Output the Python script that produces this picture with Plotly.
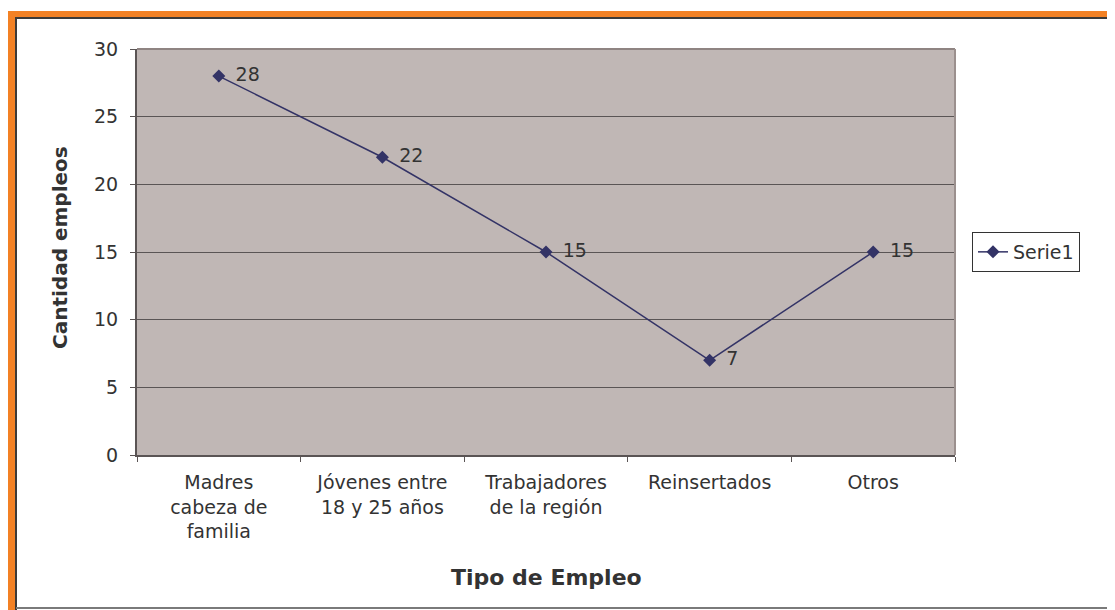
import plotly.graph_objects as go

categorias = [
    "Madres<br>cabeza de<br>familia",
    "Jóvenes entre<br>18 y 25 años",
    "Trabajadores<br>de la región",
    "Reinsertados",
    "Otros",
]
empleos = [28, 22, 15, 7, 15]
y_ticks = [0, 5, 10, 15, 20, 25, 30]

# the page body adds an 8px margin, so the figure is drawn 8px smaller
OFF = 8
W, H = 1115 - OFF, 610 - OFF
L, R, T, B = 137, 955, 49, 455   # plot area in page pixels

FONT = "DejaVu Sans, Arial, sans-serif"
TXT = "#333333"
NAVY = "#333366"


def px(x):
    return (x - L) / (R - L)


def py(y):
    return (B - y) / (B - T)


fig = go.Figure()
fig.add_trace(go.Scatter(
    x=categorias, y=empleos, name="Serie1",
    mode="lines+markers+text",
    line=dict(color=NAVY, width=1.5),
    marker=dict(symbol="diamond", size=10, color=NAVY),
    text=["\u2002" + str(v) for v in empleos],
    textposition="middle right",
    textfont=dict(family=FONT, size=19, color=TXT),
    cliponaxis=False,
))

shapes = [
    # orange frame (top and left strips)
    dict(type="rect", xref="paper", yref="paper", x0=px(7), x1=px(1125), y0=py(17), y1=py(11),
         fillcolor="#F38124", line=dict(width=0), layer="above"),
    dict(type="rect", xref="paper", yref="paper", x0=px(7), x1=px(15), y0=py(620), y1=py(11),
         fillcolor="#F38124", line=dict(width=0), layer="above"),
    dict(type="line", xref="paper", yref="paper", x0=px(15), x1=px(1125), y0=py(18), y1=py(18),
         line=dict(color="#3d3a38", width=2), layer="above"),
    dict(type="line", xref="paper", yref="paper", x0=px(16), x1=px(16), y0=py(620), y1=py(18),
         line=dict(color="#3d3a38", width=2), layer="above"),
    dict(type="line", xref="paper", yref="paper", x0=px(16), x1=px(1125), y0=py(608), y1=py(608),
         line=dict(color="#7a7a7a", width=2), layer="above"),
    # plot border top / right
    dict(type="line", xref="paper", yref="paper", x0=0, x1=1, y0=1, y1=1,
         line=dict(color="#8f8482", width=2), layer="above"),
    dict(type="line", xref="paper", yref="paper", x0=1, x1=1, y0=0, y1=1,
         line=dict(color="#9b908e", width=2), layer="above"),
]

annotations = [
    dict(text="<b>Cantidad empleos</b>", xref="paper", yref="paper", x=px(60), y=py(248),
         xanchor="center", yanchor="middle", textangle=-90, showarrow=False,
         font=dict(family=FONT, size=20, color=TXT)),
    dict(text="<b>Tipo de Empleo</b>", xref="paper", yref="paper", x=px(546), y=py(577),
         xanchor="center", yanchor="middle", showarrow=False,
         font=dict(family=FONT, size=22, color=TXT)),
]

fig.update_layout(
    width=W, height=H,
    margin=dict(l=L - OFF, r=1115 - R, t=T - OFF, b=610 - B, autoexpand=False),
    paper_bgcolor="white",
    plot_bgcolor="#C0B7B5",
    font=dict(family=FONT, size=19, color=TXT),
    shapes=shapes,
    annotations=annotations,
    showlegend=True,
    legend=dict(
        x=px(972), y=py(252), xanchor="left", yanchor="middle",
        bordercolor="#333333", borderwidth=1, bgcolor="white",
        font=dict(family=FONT, size=19, color=TXT),
    ),
)

fig.update_xaxes(
    type="category", range=[-0.5, len(categorias) - 0.5],
    showgrid=False, showline=True, linecolor="#5a5454", linewidth=2,
    ticks="outside", tickson="boundaries", ticklen=5, tickcolor="#5a5454",
    ticklabelstandoff=9,
    tickfont=dict(family=FONT, size=19, color=TXT),
    automargin=False,
)
fig.update_yaxes(
    range=[0, 30], tickvals=y_ticks,
    showgrid=True, gridcolor="#5a5555", gridwidth=1,
    showline=True, linecolor="#5a5454", linewidth=2,
    ticks="outside", ticklen=5, tickcolor="#5a5454",
    ticklabelstandoff=8,
    tickfont=dict(family=FONT, size=19, color=TXT),
    zeroline=False, automargin=False,
)

fig.write_html("out.html")
